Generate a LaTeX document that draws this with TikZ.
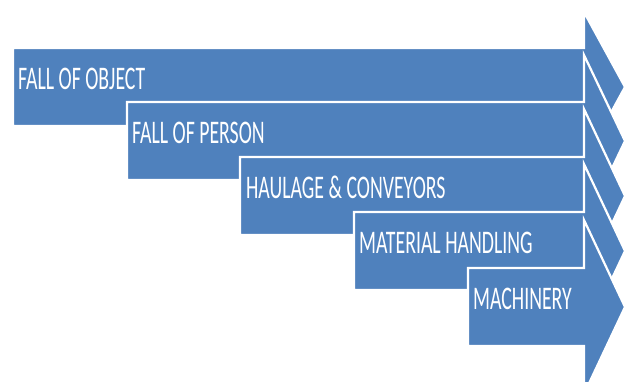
\documentclass[tikz,border=0pt]{standalone}
\usepackage{fontspec}
\setmainfont{Carlito}
\definecolor{hazardblue}{HTML}{4F81BD}
\begin{document}
\begin{tikzpicture}[x=1pt, y=-1pt,
        hazard/.style = {fill = hazardblue, draw = white, line width = 2.2, line join = miter},
        hazardtext/.style = {white, anchor = base west, inner sep = 0, xscale = .6, font = \fontsize{33}{36}\selectfont}]
    \useasboundingbox (0, 0) rectangle (627, 381);
    \clip (0, 0) rectangle (627, 381);
        \draw [hazard] (13, 48) -- (584, 48) -- (584, 12) -- (625, 87) -- (584, 162) -- (584, 126) -- (13, 126) -- cycle;
        \node [hazardtext] (object) at (18, 89) {FALL OF OBJECT};
        \draw [hazard] (127, 102) -- (584, 102) -- (584, 55) -- (625, 141) -- (584, 227) -- (584, 180) -- (127, 180) -- cycle;
        \node [hazardtext] (person) at (132, 143) {FALL OF PERSON};
        \draw [hazard] (240, 157) -- (584, 157) -- (584, 109) -- (625, 196) -- (584, 283) -- (584, 235) -- (240, 235) -- cycle;
        \node [hazardtext] (haulage) at (246, 198) {HAULAGE \& CONVEYORS};
        \draw [hazard] (354, 212) -- (584, 212) -- (584, 164) -- (625, 251) -- (584, 338) -- (584, 290) -- (354, 290) -- cycle;
        \node [hazardtext] (material) at (359, 253) {MATERIAL HANDLING};
        \draw [hazard] (468, 268) -- (584, 268) -- (584, 220) -- (625, 307) -- (584, 394) -- (584, 346) -- (468, 346) -- cycle;
        \node [hazardtext] (machinery) at (473, 309) {MACHINERY};
    \end{tikzpicture}
\end{document}
